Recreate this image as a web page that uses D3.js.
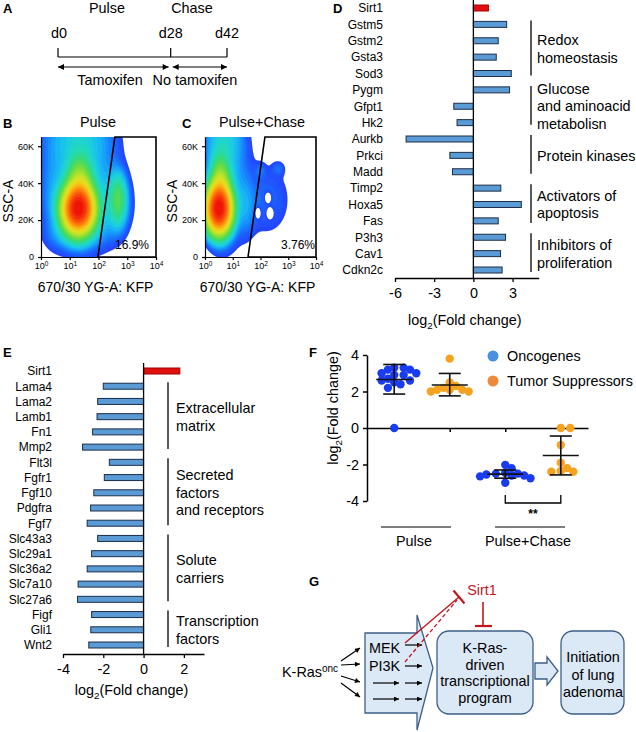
<!DOCTYPE html>
<html><head><meta charset="utf-8">
<script src="https://cdn.jsdelivr.net/npm/d3@7"></script>
<style>
body{margin:0;background:#fff}
svg{display:block;font-family:"Liberation Sans",Arial,Helvetica,sans-serif}
</style>
</head><body>
<svg id="fig" width="636" height="732"></svg>
<script>
// ---------------- DATA ----------------
// Panel A timeline
const timeDays = [0, 28, 42];
const timeLabels = ["d0", "d28", "d42"];

// Panel B/C flow cytometry: density model components [log10 KFP, SSC (K), sdU, sdV, weight]
const flowXTicks = [0, 1, 2, 3, 4];
const flowYTicks = [0, 20, 40, 60];
const pulseComponents = [
  [1.3, 26, 0.30, 7, 1.0],
  [1.35, 38, 0.25, 9, 0.15],
  [1.4, 38, 0.80, 22, 0.02],
  [1.3, 66, 0.80, 10, 0.015],
  [1.2, 12, 0.60, 5, 0.01],
  [0.4, 35, 0.30, 18, 0.006],
  [2.68, 31, 0.18, 8, 0.06],
  [2.5, 28, 0.45, 12, 0.012]
];
const chaseComponents = [
  [0.5, 26, 0.25, 7, 1.0],
  [0.55, 38, 0.20, 9, 0.15],
  [0.7, 40, 0.50, 22, 0.02],
  [0.7, 66, 0.50, 10, 0.015],
  [2.25, 31, 0.65, 15, 0.008],
  [1.5, 27, 0.20, 10, 0.008],
  [2.0, 47, 0.12, 2.5, 0.006],
  [2.65, 48, 0.15, 2.5, 0.006],
  [2.27, 32, 0.08, 2.0, -0.01],
  [2.34, 24, 0.08, 2.0, -0.01],
  [1.9, 24, 0.07, 2.0, -0.01]
];
const pulseGate = [[1.98, 0], [2.57, 65], [4, 65], [4, 0]];
const chaseGate = [[1.55, 0], [2.16, 65], [4, 65], [4, 0]];
const pulsePct = "16.9%";
const chasePct = "3.76%";

// Panel D
const dGenes = ["Sirt1","Gstm5","Gstm2","Gsta3","Sod3","Pygm","Gfpt1","Hk2","Aurkb","Prkci","Madd","Timp2","Hoxa5","Fas","P3h3","Cav1","Cdkn2c"];
const dValues = [1.15, 2.55, 1.9, 1.75, 2.9, 2.77, -1.5, -1.25, -5.15, -1.8, -1.6, 2.1, 3.67, 1.9, 2.46, 2.08, 2.2];
const dTicks = [-6, -3, 0, 3];
const dGroupLabels = [["Redox","homeostasis"],["Glucose","and aminoacid","metabolisn"],["Protein kinases"],["Activators of","apoptosis"],["Inhibitors of","proliferation"]];
const dGroupFirst = ["Gstm5","Pygm","Aurkb","Timp2","P3h3"];
const dGroupLast = ["Sod3","Hk2","Madd","Fas","Cdkn2c"];

// Panel E
const eGenes = ["Sirt1","Lama4","Lama2","Lamb1","Fn1","Mmp2","Flt3l","Fgfr1","Fgf10","Pdgfra","Fgf7","Slc43a3","Slc29a1","Slc36a2","Slc7a10","Slc27a6","Figf","Gli1","Wnt2"];
const eValues = [1.8, -2.0, -2.28, -2.31, -2.53, -3.03, -1.7, -1.95, -2.47, -2.63, -2.8, -2.28, -2.58, -2.8, -3.25, -3.28, -2.58, -2.62, -2.72];
const eTicks = [-4, -2, 0, 2];
const eGroupLabels = [["Extracellular","matrix"],["Secreted","factors","and receptors"],["Solute","carriers"],["Transcription","factors"]];
const eGroupFirst = ["Lama4","Flt3l","Slc43a3","Figf"];
const eGroupLast = ["Mmp2","Fgf7","Slc27a6","Wnt2"];

// Panel F
const fCategories = ["Onc-Pulse","TS-Pulse","Onc-PC","TS-PC"];
const oncPulse = [3.3, 3.3, 3.2, 3.2, 3.0, 2.9, 2.9, 3.0, 2.7, 2.6, 2.6, 2.5, 2.4, 2.2, 0];
const tsPulse = [3.8, 2.5, 2.3, 2.2, 2.1, 2.1, 2.1, 2.0, 2.0];
const oncPC = [-2.02, -2.2, -2.45, -2.5, -2.5, -2.55, -2.6, -2.6, -2.65, -2.75, -3.0];
const tsPC = [0, 0, -0.93, -1.9, -2.2, -2.35, -2.4, -2.4];
const fMeans = [2.66, 2.36, -2.53, -1.51];
const fLow = [1.86, 1.76, -2.75, -2.57];
const fHigh = [3.48, 2.99, -2.30, -0.44];
const fTicks = [-4, -2, 0, 2, 4];
const fLegend = ["Oncogenes", "Tumor Suppressors"];
const fGroups = ["Pulse", "Pulse+Chase"];

// ---------------- DRAWING ----------------
const svg = d3.select("#fig");
const defs = svg.append("defs");
function marker(id, color, w, h) {
  defs.append("marker").attr("id", id).attr("viewBox", "0 0 10 10")
    .attr("refX", 10).attr("refY", 5).attr("markerUnits", "userSpaceOnUse")
    .attr("markerWidth", w).attr("markerHeight", h).attr("orient", "auto-start-reverse")
    .append("path").attr("d", "M0,0L10,5L0,10Z").attr("fill", color);
}
marker("ah", "#000", 7, 6);
marker("ahs", "#000", 6, 5);

function txt(g, x, y, s, size, anchor, opts) {
  opts = opts || {};
  const t = g.append("text").attr("x", x).attr("y", y).attr("font-size", size)
    .attr("text-anchor", anchor || "start").attr("fill", opts.fill || "#000").text(s);
  if (opts.bold) t.attr("font-weight", "bold");
  if (opts.dy) t.attr("dy", opts.dy);
  return t;
}
function logFold(g, x, y, size, rotate) {
  const t = g.append("text").attr("font-size", size).attr("text-anchor", "middle");
  if (rotate) t.attr("transform", `translate(${x},${y}) rotate(-90)`);
  else t.attr("x", x).attr("y", y);
  t.append("tspan").text("log");
  t.append("tspan").attr("dy", 4).attr("font-size", size * 0.68).text("2");
  t.append("tspan").attr("dy", -4).text("(Fold change)");
  return t;
}

// ===== Panel A =====
const A = svg.append("g");
txt(A, 3, 13, "A", 13, "start", {bold: true});
const xA = d3.scaleLinear().domain([0, 42]).range([58, 227]);
txt(A, 107, 13, "Pulse", 14.4, "middle");
txt(A, 192, 13, "Chase", 14.4, "middle");
timeDays.forEach((d, i) => {
  txt(A, xA(d) + (i === 0 ? 1 : 0), 38, timeLabels[i], 14.4, "middle");
  A.append("line").attr("x1", xA(d)).attr("x2", xA(d)).attr("y1", 48).attr("y2", 57).attr("stroke", "#000").attr("stroke-width", 1.2);
});
A.append("line").attr("x1", xA(0)).attr("x2", xA(42)).attr("y1", 57).attr("y2", 57).attr("stroke", "#000").attr("stroke-width", 1.2);
A.append("line").attr("x1", xA(0)).attr("x2", xA(28) - 2).attr("y1", 67).attr("y2", 67)
  .attr("stroke", "#000").attr("stroke-width", 1.2).attr("marker-start", "url(#ah)").attr("marker-end", "url(#ah)");
A.append("line").attr("x1", xA(28) + 2).attr("x2", xA(42)).attr("y1", 67).attr("y2", 67)
  .attr("stroke", "#000").attr("stroke-width", 1.2).attr("marker-start", "url(#ah)").attr("marker-end", "url(#ah)");
txt(A, 110, 85, "Tamoxifen", 14.4, "middle");
txt(A, 195, 85, "No tamoxifen", 14.4, "middle");

// ===== Panels B & C (flow density) =====
const jet = d3.interpolateRgbBasis(["#2446ff","#1c5cff","#1590ff","#19c8f0","#22dcc0","#30d880","#60dc40","#a8e030","#e8e820","#ffb010","#ff5a0c","#ee1408"]);
function flowPanel(id, letter, letterX, title, titleX, xs, ys, comps, gate, pct, pctX) {
  const g = svg.append("g");
  txt(g, letterX, 128, letter, 13, "start", {bold: true});
  txt(g, titleX, 127, title, 14.4, "middle");
  const nx = 220, ny = 180, u0 = -0.2, u1 = 4.2, v0 = -3, v1 = 75;
  const vals = new Float64Array(nx * ny);
  for (let j = 0; j < ny; j++) {
    const v = v0 + (j + 0.5) * (v1 - v0) / ny;
    for (let i = 0; i < nx; i++) {
      const u = u0 + (i + 0.5) * (u1 - u0) / nx;
      let s = 0;
      for (const c of comps) {
        const du = (u - c[0]) / c[2], dv = (v - c[1]) / c[3];
        s += c[4] * Math.exp(-0.5 * (du * du + dv * dv));
      }
      vals[j * nx + i] = s;
    }
  }
  const max = d3.max(vals);
  const L = 34, lo = 0.004;
  const thr = d3.range(L).map(k => max * Math.exp(Math.log(lo) * (1 - k / L)));
  const contours = d3.contours().size([nx, ny]).thresholds(thr)(vals);
  const proj = d3.geoTransform({
    point(x, y) { this.stream.point(xs(u0 + x * (u1 - u0) / nx), ys(v0 + y * (v1 - v0) / ny)); }
  });
  const path = d3.geoPath(proj);
  g.append("clipPath").attr("id", "clip" + id).append("rect")
    .attr("x", xs(0)).attr("y", ys(65)).attr("width", xs(4) - xs(0)).attr("height", ys(0) - ys(65));
  g.append("g").attr("clip-path", `url(#clip${id})`).selectAll("path").data(contours).join("path")
    .attr("d", path).attr("fill", (d, k) => jet(k / (L - 1)));
  // axes
  const ax = g.append("g").attr("transform", `translate(0,${ys(0)})`)
    .call(d3.axisBottom(xs).tickValues(flowXTicks).tickSize(3).tickPadding(3).tickSizeOuter(0));
  ax.selectAll(".tick text").attr("font-size", 9).attr("font-family", null).text(null).each(function (d) {
    const t = d3.select(this);
    t.append("tspan").text("10");
    t.append("tspan").attr("dy", "-0.45em").attr("font-size", 6.5).text(d);
  });
  const ay = g.append("g").attr("transform", `translate(${xs(0)},0)`)
    .call(d3.axisLeft(ys).tickValues(flowYTicks).tickSize(3).tickPadding(4).tickSizeOuter(0)
      .tickFormat(d => d === 0 ? "0" : d + "K"));
  ay.selectAll(".tick text").attr("font-size", 9).attr("font-family", null);
  [ax, ay].forEach(a => { a.select(".domain").attr("stroke-width", 1.2); a.selectAll(".tick line").attr("stroke-width", 1.2); });
  // gate
  g.append("path").attr("d", d3.line().x(p => xs(p[0])).y(p => ys(p[1]))(gate) + "Z")
    .attr("fill", "none").attr("stroke", "#000").attr("stroke-width", 1.6);
  txt(g, pctX, 249, pct, 12, "middle");
  txt(g, (xs(0) + xs(4)) / 2 - 3, 292, "670/30 YG-A: KFP", 14, "middle");
  g.append("text").attr("font-size", 14).attr("text-anchor", "middle")
    .attr("transform", `translate(${xs(0) - 28},201) rotate(-90)`).text("SSC-A");
}
const ysFlow = d3.scaleLinear().domain([0, 65]).range([257, 137]);
flowPanel("B", "B", 3, "Pulse", 98, d3.scaleLinear().domain([0, 4]).range([41, 156]), ysFlow, pulseComponents, pulseGate, pulsePct, 132);
flowPanel("C", "C", 182, "Pulse+Chase", 262, d3.scaleLinear().domain([0, 4]).range([205, 316]), ysFlow, chaseComponents, chaseGate, chasePct, 298);

// ===== Bar chart helper (D & E) =====
function barPanel(genes, values, ticks, xDomain, xRange, yRange, axisY, zeroTop, labelX, brX, brTextX, groupLabels, gFirst, gLast, axisLabelY, tickLabelDy) {
  const g = svg.append("g");
  const x = d3.scaleLinear().domain(xDomain).range(xRange);
  const y = d3.scalePoint().domain(genes).range(yRange);
  g.selectAll("rect.bar").data(genes).join("rect").attr("class", "bar")
    .attr("x", (d, i) => Math.min(x(0), x(values[i])))
    .attr("width", (d, i) => Math.abs(x(values[i]) - x(0)))
    .attr("y", d => y(d) - 3).attr("height", 6)
    .attr("fill", (d, i) => d === "Sirt1" ? "#e01010" : "#5b9bd5")
    .attr("stroke", (d, i) => d === "Sirt1" ? "#a00000" : "#1c2e48").attr("stroke-width", 1);
  g.append("line").attr("x1", x(0)).attr("x2", x(0)).attr("y1", zeroTop).attr("y2", axisY)
    .attr("stroke", "#000").attr("stroke-width", 1.3);
  genes.forEach(d => txt(g, labelX, y(d), d, 12, "end", {dy: "0.36em"}));
  const ax = g.append("g").attr("transform", `translate(0,${axisY})`)
    .call(d3.axisBottom(x).tickValues(ticks).tickSize(4).tickPadding(tickLabelDy).tickSizeOuter(0).tickFormat(d3.format("d")));
  ax.select(".domain").attr("stroke-width", 1.3);
  ax.selectAll(".tick line").attr("stroke-width", 1.3);
  ax.selectAll(".tick text").attr("font-size", 14.4).attr("font-family", null).text(d => d < 0 ? "-" + Math.abs(d) : d);
  logFold(g, (x(xDomain[0]) + x(xDomain[1])) / 2 - 2, axisLabelY, 14.4, false);
  groupLabels.forEach((lines, k) => {
    const y1 = y(gFirst[k]), y2 = y(gLast[k]);
    g.append("line").attr("x1", brX).attr("x2", brX).attr("y1", y1 - 4).attr("y2", y2 + 2)
      .attr("stroke", "#000").attr("stroke-width", 1.3);
    const mid = (y1 + y2) / 2, lh = 17.5;
    lines.forEach((s, m) => txt(g, brTextX, mid + (m - (lines.length - 1) / 2) * lh, s, 14.4, "start", {dy: "0.36em"}));
  });
  return g;
}
// Panel D
const D = barPanel(dGenes, dValues, dTicks, [-6, 5], [395, 538.7], [8, 270], 278, 0, 383, 531, 537,
  dGroupLabels, dGroupFirst, dGroupLast, 325, 6);
txt(D, 333, 13, "D", 13, "start", {bold: true});
// Panel E
const E = barPanel(eGenes, eValues, eTicks, [-4, 3], [63, 204], [371, 645], 654, 363, 52, 168, 176,
  eGroupLabels, eGroupFirst, eGroupLast, 695, 6);
txt(E, 3, 357, "E", 13, "start", {bold: true});

// ===== Panel F =====
const F = svg.append("g");
txt(F, 309, 357, "F", 13, "start", {bold: true});
const yF = d3.scaleLinear().domain([-4, 4]).range([501, 355]);
const xF = d3.scalePoint().domain(fCategories).range([367, 588]).padding(0.49);
const fPoints = [oncPulse, tsPulse, oncPC, tsPC];
const fColors = ["#1a3cf0", "#f5a21e", "#1a3cf0", "#f5a21e"];
const legendColors = ["#4a90e2", "#ef8a3a"];
const ayF = F.append("g").attr("transform", "translate(367,0)")
  .call(d3.axisLeft(yF).tickValues(fTicks).tickSize(4).tickPadding(4).tickSizeOuter(0).tickFormat(d => d < 0 ? "-" + Math.abs(d) : d));
ayF.selectAll(".tick text").attr("font-size", 14.4).attr("font-family", null);
const axF = F.append("g").attr("transform", `translate(0,${yF(0)})`)
  .call(d3.axisBottom(xF).tickSize(4).tickSizeOuter(0).tickFormat(""));
[ayF, axF].forEach(a => { a.select(".domain").attr("stroke-width", 1.5); a.selectAll(".tick line").attr("stroke-width", 1.5); });
logFold(F, 338, 408, 14.4, true);
// beeswarm
function swarm(vals, cx, r) {
  const pts = vals.map(v => ({v, y: yF(v)})).sort((a, b) => b.v - a.v);
  const placed = [];
  for (const p of pts) {
    for (let k = 0; k < 60; k++) {
      const off = (k === 0 ? 0 : Math.ceil(k / 2) * (k % 2 ? 1 : -1)) * r * 0.75;
      const xx = cx + off;
      if (placed.every(q => Math.hypot(q.x - xx, q.y - p.y) >= r * 1.55)) { p.x = xx; placed.push(p); break; }
    }
  }
  return placed;
}
fCategories.forEach((c, i) => {
  const cx = xF(c);
  const pts = swarm(fPoints[i], cx, 4.2);
  F.append("g").selectAll("circle").data(pts).join("circle")
    .attr("cx", d => d.x).attr("cy", d => d.y).attr("r", 4.2).attr("fill", fColors[i]);
  const eb = F.append("g").attr("stroke", "#111").attr("stroke-width", 1.6);
  eb.append("line").attr("x1", cx).attr("x2", cx).attr("y1", yF(fLow[i])).attr("y2", yF(fHigh[i]));
  eb.append("line").attr("x1", cx - 11).attr("x2", cx + 11).attr("y1", yF(fLow[i])).attr("y2", yF(fLow[i]));
  eb.append("line").attr("x1", cx - 11).attr("x2", cx + 11).attr("y1", yF(fHigh[i])).attr("y2", yF(fHigh[i]));
  eb.append("line").attr("x1", cx - 18).attr("x2", cx + 18).attr("y1", yF(fMeans[i])).attr("y2", yF(fMeans[i]));
});
// significance
F.append("path").attr("d", `M${xF("Onc-PC")},495V503H${xF("TS-PC")}V495`).attr("fill", "none").attr("stroke", "#000").attr("stroke-width", 1.3);
txt(F, (xF("Onc-PC") + xF("TS-PC")) / 2, 518, "**", 12, "middle", {bold: true});
// group labels
[[fCategories[0], fCategories[1]], [fCategories[2], fCategories[3]]].forEach((pair, k) => {
  const cx = (xF(pair[0]) + xF(pair[1])) / 2 - (k === 0 ? 6 : 3);
  F.append("line").attr("x1", cx - 35).attr("x2", cx + 35).attr("y1", 527).attr("y2", 527).attr("stroke", "#000").attr("stroke-width", 1.2);
  txt(F, cx - 2, 546, fGroups[k], 14.4, "middle");
});
// legend
fLegend.forEach((s, k) => {
  F.append("circle").attr("cx", 493).attr("cy", 356 + k * 25).attr("r", 5.5).attr("fill", legendColors[k]);
  txt(F, 507, 356 + k * 25, s, 14.4, "start", {dy: "0.36em"});
});

// ===== Panel G (schematic) =====
const G = svg.append("g");
txt(G, 309, 586, "G", 13, "start", {bold: true});
const boxFill = "#dbe8f5", boxStroke = "#3e5f85";
G.append("path").attr("d", "M365,633 L417,633 L417,615 L433,668 L417,730 L417,713 L365,713 Z")
  .attr("fill", boxFill).attr("stroke", boxStroke).attr("stroke-width", 1.3);
G.append("rect").attr("x", 437).attr("y", 631).attr("width", 96).attr("height", 83).attr("rx", 12)
  .attr("fill", boxFill).attr("stroke", boxStroke).attr("stroke-width", 1.3);
G.append("path").attr("d", "M535,663 L547,663 L547,657 L558,671 L547,685 L547,679 L535,679 Z")
  .attr("fill", boxFill).attr("stroke", boxStroke).attr("stroke-width", 1.3);
G.append("rect").attr("x", 561).attr("y", 631).attr("width", 63).attr("height", 83).attr("rx", 12)
  .attr("fill", boxFill).attr("stroke", boxStroke).attr("stroke-width", 1.3);
["K-Ras-", "driven", "transcriptional", "program"].forEach((s, k) => txt(G, 485, 653 + k * 16.7, s, 14.4, "middle"));
["Initiation", "of lung", "adenoma"].forEach((s, k) => txt(G, 593, 662 + k * 17.7, s, 14.4, "middle"));
const kr = txt(G, 282, 677, "K-Ras", 14.4, "start");
kr.append("tspan").attr("dy", -5).attr("font-size", 10).text("onc");
txt(G, 369, 653, "MEK", 14.4, "start");
txt(G, 369, 671, "PI3K", 14.4, "start");
const arrows = [
  [341, 661, 360, 648], [341, 665, 360, 664], [341, 676, 360, 682], [341, 683, 360, 697],
  [405, 645, 422, 645], [405, 666, 422, 666],
  [373, 683, 399, 683], [405, 683, 422, 683], [373, 699, 399, 699], [405, 699, 422, 699]
];
arrows.forEach(a => G.append("line").attr("x1", a[0]).attr("y1", a[1]).attr("x2", a[2]).attr("y2", a[3])
  .attr("stroke", "#000").attr("stroke-width", 1.2).attr("marker-end", "url(#ahs)"));
const red = "#c4161c";
G.append("line").attr("x1", 405).attr("y1", 643).attr("x2", 459).attr("y2", 597).attr("stroke", red).attr("stroke-width", 1.4);
G.append("line").attr("x1", 405).attr("y1", 662).attr("x2", 457).attr("y2", 600).attr("stroke", red).attr("stroke-width", 1.3).attr("stroke-dasharray", "4,2.5");
G.append("line").attr("x1", 453.5).attr("y1", 590.5).attr("x2", 464.5).attr("y2", 603.5).attr("stroke", red).attr("stroke-width", 2.2);
txt(G, 482, 595, "Sirt1", 14.4, "middle", {fill: red});
G.append("line").attr("x1", 483).attr("y1", 602).attr("x2", 483).attr("y2", 626).attr("stroke", red).attr("stroke-width", 1.6);
G.append("line").attr("x1", 475).attr("y1", 626).attr("x2", 492).attr("y2", 626).attr("stroke", red).attr("stroke-width", 2.2);
</script>
</body></html>
